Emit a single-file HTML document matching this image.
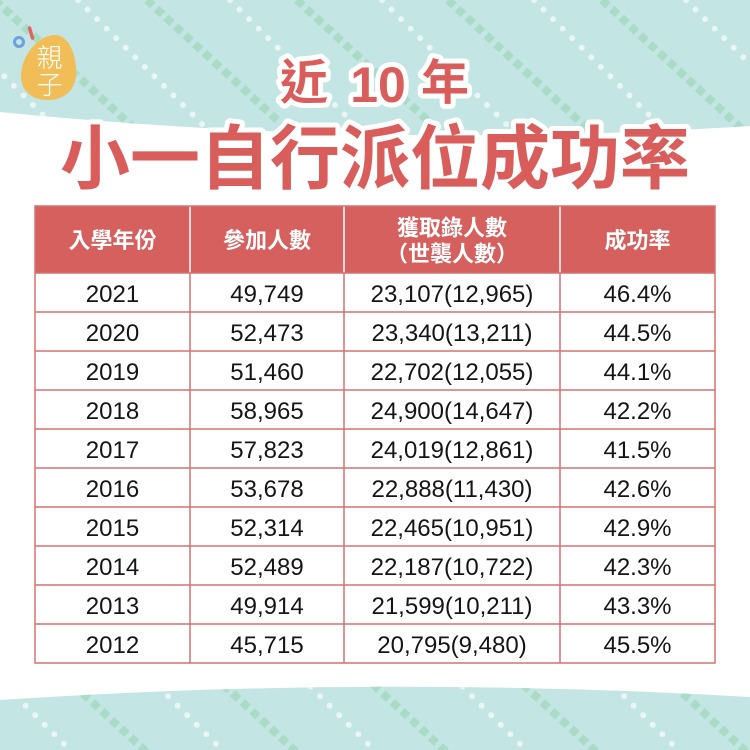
<!DOCTYPE html>
<html><head><meta charset="utf-8"><style>
html,body{margin:0;padding:0;background:#fff;}
body{width:750px;height:750px;overflow:hidden;position:relative;}
svg{position:absolute;left:0;top:0;}
</style></head><body>
<svg width="750" height="750" viewBox="0 0 750 750" xmlns="http://www.w3.org/2000/svg">
<defs>
<clipPath id="ct"><path d="M0,0 H750 V126 Q380,150 0,112 Z"/></clipPath>
<clipPath id="cb"><path d="M0,700 Q375,675 750,697 V750 H0 Z"/></clipPath>
</defs>
<rect width="750" height="750" fill="#ffffff"/>
<!-- top teal -->
<path d="M0,0 H750 V126 Q380,150 0,112 Z" fill="#c3e5e3"/>
<g clip-path="url(#ct)">
 <g stroke="#a9dbc6" stroke-width="8" stroke-dasharray="8 5" fill="none">
  <line x1="-5" y1="0" x2="212" y2="200"/>
  <line x1="147" y1="0" x2="364" y2="200"/>
  <line x1="297" y1="0" x2="514" y2="200"/>
  <line x1="448" y1="0" x2="665" y2="200"/>
  <line x1="602" y1="0" x2="819" y2="200"/>
 </g>
 <g stroke="#eaf6f5" stroke-width="6" stroke-linecap="round" stroke-dasharray="0 13.5" fill="none">
  <line x1="-72" y1="0" x2="128" y2="200"/>
  <line x1="78" y1="0" x2="278" y2="200"/>
  <line x1="230" y1="0" x2="430" y2="200"/>
  <line x1="382" y1="0" x2="582" y2="200"/>
  <line x1="534" y1="0" x2="734" y2="200"/>
  <line x1="686" y1="0" x2="886" y2="200"/>
 </g>
</g>
<!-- bottom teal -->
<path d="M0,700 Q375,675 750,697 V750 H0 Z" fill="#c3e5e3"/>
<g clip-path="url(#cb)">
 <g stroke="#a9dbc6" stroke-width="8" stroke-dasharray="8 5" fill="none">
  <line x1="-96" y1="667" x2="2" y2="757"/>
  <line x1="54" y1="667" x2="152" y2="757"/>
  <line x1="204" y1="667" x2="302" y2="757"/>
  <line x1="354" y1="667" x2="452" y2="757"/>
  <line x1="504" y1="667" x2="602" y2="757"/>
  <line x1="654" y1="667" x2="752" y2="757"/>
 </g>
 <g stroke="#eaf6f5" stroke-width="6" stroke-linecap="round" stroke-dasharray="0 13.5" fill="none">
  <line x1="-3" y1="677" x2="77" y2="757"/>
  <line x1="149" y1="677" x2="229" y2="757"/>
  <line x1="301" y1="677" x2="381" y2="757"/>
  <line x1="453" y1="677" x2="533" y2="757"/>
  <line x1="605" y1="677" x2="685" y2="757"/>
 </g>
</g>
<!-- logo -->
<path d="M55,35 C70,35 77,58 76,75 C75,91 63,100 48,100 C32,100 21,91 21,76 C21,56 38,35 55,35 Z" fill="#f1bd57"/>
<circle cx="19" cy="42" r="4.5" fill="none" stroke="#6f9fdc" stroke-width="3"/>
<line x1="29.5" y1="28" x2="32.5" y2="38" stroke="#e06262" stroke-width="3.5" stroke-linecap="round"/>
<g font-family="'Noto Sans CJK TC','Noto Sans CJK SC',sans-serif" font-size="26" font-weight="300" fill="#ffffff" text-anchor="middle">
 <text x="49.5" y="67">親</text>
 <text x="49.5" y="94">子</text>
</g>
<!-- title -->
<g font-family="'Liberation Sans','Noto Sans CJK TC',sans-serif" font-weight="700" fill="#d95e5b" stroke="#ffffff" stroke-width="10" stroke-linejoin="round" paint-order="stroke" text-anchor="middle">
 <text x="304" y="99" font-size="48">近</text>
 <text x="378" y="102" font-size="50">10</text>
 <text x="445" y="99" font-size="48">年</text>
 <text x="375" y="183" font-size="70">小一自行派位成功率</text>
</g>
<!-- table -->
<rect x="35" y="206" width="680" height="67" fill="#d5605e"/>
<rect x="35" y="273" width="680" height="390" fill="#ffffff"/>
<g stroke="#ffffff" stroke-width="1.5">
 <line x1="190" y1="206" x2="190" y2="273"/>
 <line x1="344" y1="206" x2="344" y2="273"/>
 <line x1="560" y1="206" x2="560" y2="273"/>
</g>
<g stroke="#d37270" stroke-width="1.5" fill="none">
 <rect x="35" y="206" width="680" height="457"/>
 <line x1="190" y1="273" x2="190" y2="663"/>
 <line x1="344" y1="273" x2="344" y2="663"/>
 <line x1="560" y1="273" x2="560" y2="663"/>
 <line x1="35" y1="273" x2="715" y2="273"/>
 <line x1="35" y1="312" x2="715" y2="312"/>
 <line x1="35" y1="351" x2="715" y2="351"/>
 <line x1="35" y1="390" x2="715" y2="390"/>
 <line x1="35" y1="429" x2="715" y2="429"/>
 <line x1="35" y1="468" x2="715" y2="468"/>
 <line x1="35" y1="507" x2="715" y2="507"/>
 <line x1="35" y1="546" x2="715" y2="546"/>
 <line x1="35" y1="585" x2="715" y2="585"/>
 <line x1="35" y1="624" x2="715" y2="624"/>
</g>
<g font-family="'Liberation Sans','Noto Sans CJK TC',sans-serif" font-weight="700" font-size="22" fill="#ffffff" text-anchor="middle">
 <text x="112.5" y="248">入學年份</text>
 <text x="267" y="248">參加人數</text>
 <text x="452" y="235.5">獲取錄人數</text>
 <text x="452" y="261.5">（世襲人數）</text>
 <text x="637.5" y="248">成功率</text>
</g>
<g font-family="'Liberation Sans',sans-serif" font-size="24" fill="#151515" text-anchor="middle">
 <text x="112.5" y="302">2021</text><text x="267" y="302">49,749</text><text x="452" y="302">23,107(12,965)</text><text x="637.5" y="302">46.4%</text>
 <text x="112.5" y="341">2020</text><text x="267" y="341">52,473</text><text x="452" y="341">23,340(13,211)</text><text x="637.5" y="341">44.5%</text>
 <text x="112.5" y="380">2019</text><text x="267" y="380">51,460</text><text x="452" y="380">22,702(12,055)</text><text x="637.5" y="380">44.1%</text>
 <text x="112.5" y="419">2018</text><text x="267" y="419">58,965</text><text x="452" y="419">24,900(14,647)</text><text x="637.5" y="419">42.2%</text>
 <text x="112.5" y="458">2017</text><text x="267" y="458">57,823</text><text x="452" y="458">24,019(12,861)</text><text x="637.5" y="458">41.5%</text>
 <text x="112.5" y="497">2016</text><text x="267" y="497">53,678</text><text x="452" y="497">22,888(11,430)</text><text x="637.5" y="497">42.6%</text>
 <text x="112.5" y="536">2015</text><text x="267" y="536">52,314</text><text x="452" y="536">22,465(10,951)</text><text x="637.5" y="536">42.9%</text>
 <text x="112.5" y="575">2014</text><text x="267" y="575">52,489</text><text x="452" y="575">22,187(10,722)</text><text x="637.5" y="575">42.3%</text>
 <text x="112.5" y="614">2013</text><text x="267" y="614">49,914</text><text x="452" y="614">21,599(10,211)</text><text x="637.5" y="614">43.3%</text>
 <text x="112.5" y="653">2012</text><text x="267" y="653">45,715</text><text x="452" y="653">20,795(9,480)</text><text x="637.5" y="653">45.5%</text>
</g>
</svg>
</body></html>
